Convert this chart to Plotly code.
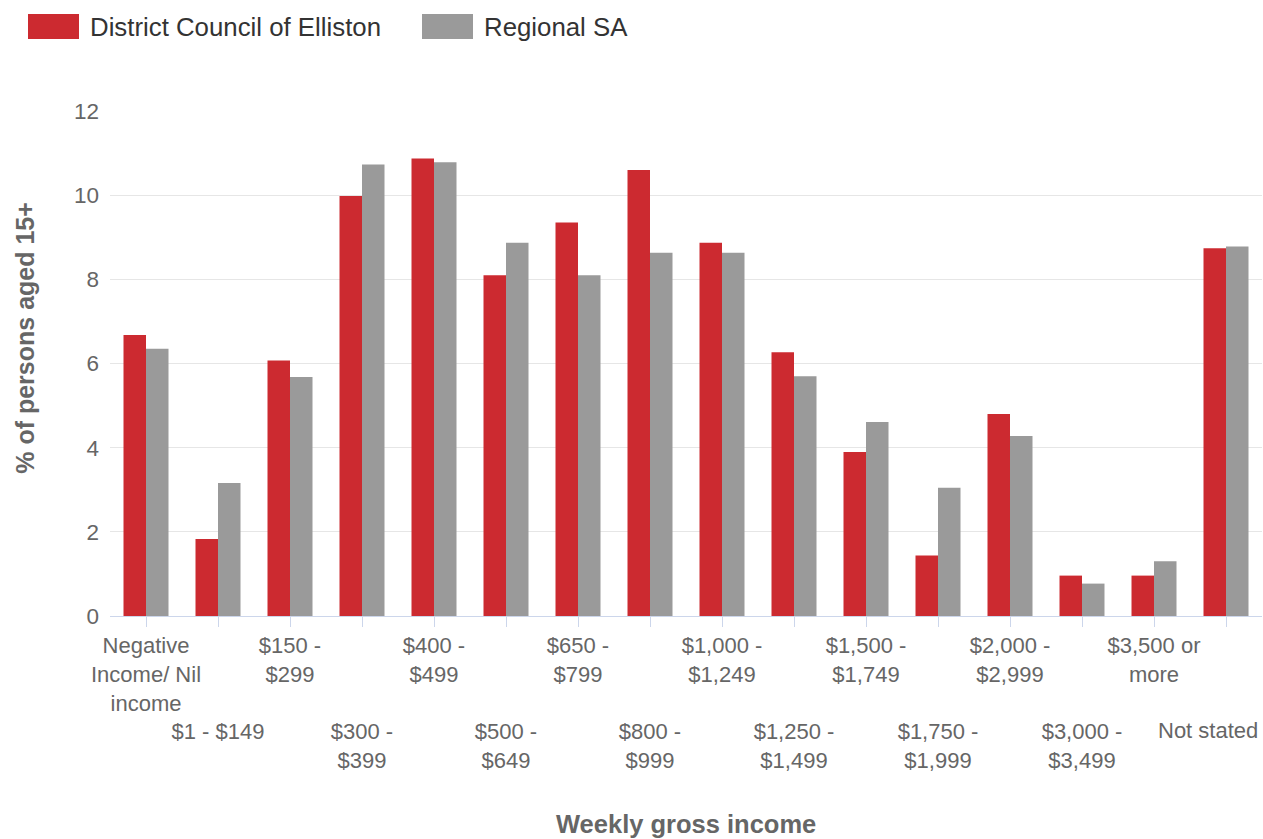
import plotly.graph_objects as go

# Weekly gross income bands
categories = [
    "Negative<br>Income/ Nil<br>income", "$1 - $149", "$150 -<br>$299", "$300 -<br>$399",
    "$400 -<br>$499", "$500 -<br>$649", "$650 -<br>$799", "$800 -<br>$999",
    "$1,000 -<br>$1,249", "$1,250 -<br>$1,499", "$1,500 -<br>$1,749", "$1,750 -<br>$1,999",
    "$2,000 -<br>$2,999", "$3,000 -<br>$3,499", "$3,500 or<br>more", "Not stated",
]
elliston = [6.68, 1.83, 6.07, 9.98, 10.87, 8.10, 9.35, 10.60,
            8.87, 6.27, 3.90, 1.44, 4.80, 0.96, 0.96, 8.74]
regional_sa = [6.35, 3.16, 5.68, 10.73, 10.78, 8.87, 8.10, 8.63,
               8.63, 5.70, 4.61, 3.05, 4.28, 0.77, 1.30, 8.78]
series_names = ["District Council of Elliston", "Regional SA"]
series_colors = ["#cc2a30", "#9a9a9a"]
y_ticks = [0, 2, 4, 6, 8, 10, 12]

W, H = 1263, 839
L, R, T, B = 110, 1, 111, 222.5
PW, PH = W - L - R, H - T - B
FONT = "Liberation Sans, Arial, sans-serif"
TICK_FONT = dict(family=FONT, size=22, color="#666666")


def px(x):
    return (x - L) / PW


def py(y):
    return (H - B - y) / PH


x_pos = list(range(len(categories)))
last = len(categories) - 1

# Stagger the category labels over two rows; the last one is drawn
# separately so it can be pulled in from the right edge
tick_text = []
for i, c in enumerate(categories):
    if i == last:
        tick_text.append("")
    else:
        tick_text.append(c if i % 2 == 0 else "<br><br><br>" + c)

fig = go.Figure()
for name, vals, col in zip(series_names, [elliston, regional_sa], series_colors):
    fig.add_trace(go.Bar(x=x_pos, y=vals, name=name, marker=dict(color=col, line=dict(width=0)),
                         showlegend=False))

shapes = []
annotations = []
# Legend entries
legend_items = [(28, 79, 88), (422, 473, 482)]
for (x0, x1, tx), name, col in zip(legend_items, series_names, series_colors):
    shapes.append(dict(type="rect", xref="paper", yref="paper", x0=px(x0), x1=px(x1),
                       y0=py(39), y1=py(14), fillcolor=col, line=dict(width=0)))
    annotations.append(dict(text=name, xref="paper", yref="paper", x=px(tx), y=py(27),
                            xanchor="left", yanchor="middle", showarrow=False,
                            font=dict(family=FONT, size=25.8, color="#333333")))

# Last category label, shifted left to stay inside the chart
annotations.append(dict(text=categories[last], xref="x", yref="paper", x=x_pos[last],
                        y=py(731), xanchor="center", yanchor="middle", xshift=-18,
                        showarrow=False, font=TICK_FONT))

# Axis titles
annotations.append(dict(text="<b>Weekly gross income</b>", xref="paper", yref="paper",
                        x=px(686), y=py(825), xanchor="center", yanchor="middle",
                        showarrow=False, font=dict(family=FONT, size=25.5, color="#666666")))
annotations.append(dict(text="<b>% of persons aged 15+</b>", xref="paper", yref="paper",
                        x=px(25), y=py(338), xanchor="center", yanchor="middle", textangle=-90,
                        showarrow=False, font=dict(family=FONT, size=25, color="#666666")))

fig.update_layout(
    width=W, height=H,
    margin=dict(l=L, r=R, t=T, b=B, pad=0, autoexpand=False),
    paper_bgcolor="white", plot_bgcolor="white",
    barmode="group", bargap=0.375, bargroupgap=0,
    shapes=shapes, annotations=annotations,
    font=dict(family=FONT, color="#666666"),
    xaxis=dict(
        tickmode="array", tickvals=x_pos, ticktext=tick_text,
        range=[-0.5, len(categories) - 0.5],
        showline=True, linecolor="#ccd6eb", linewidth=1,
        ticks="outside", ticklen=10, tickcolor="#ccd6eb", tickwidth=1,
        showgrid=False, zeroline=False, automargin=False,
        tickfont=TICK_FONT, tickangle=0, ticklabeloverflow="allow",
    ),
    yaxis=dict(
        range=[0, 12], tickvals=y_ticks, ticktext=[str(v) for v in y_ticks],
        showgrid=True, gridcolor="#e6e6e6", gridwidth=1,
        zeroline=False, showline=False, ticks="", automargin=False,
        tickfont=dict(family=FONT, size=22.5, color="#666666"),
        ticklabelstandoff=10,
    ),
)

fig.write_html("out.html")
